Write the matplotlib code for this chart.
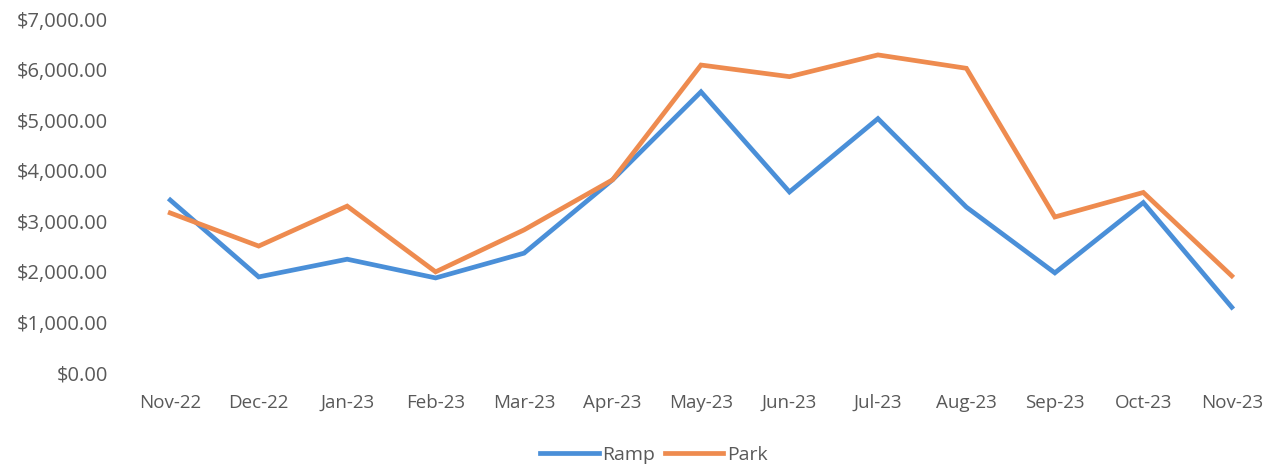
import matplotlib
matplotlib.use("Agg")
import matplotlib.pyplot as plt
from matplotlib.ticker import FuncFormatter
from matplotlib.lines import Line2D

months = ["Nov-22", "Dec-22", "Jan-23", "Feb-23", "Mar-23", "Apr-23", "May-23",
          "Jun-23", "Jul-23", "Aug-23", "Sep-23", "Oct-23", "Nov-23"]
ramp = [3420, 1900, 2250, 1880, 2370, 3820, 5560, 3580, 5030, 3280, 1980, 3370, 1300]
park = [3165, 2510, 3300, 2000, 2830, 3820, 6090, 5860, 6290, 6025, 3085, 3570, 1920]
yticks = [0, 1000, 2000, 3000, 4000, 5000, 6000, 7000]

blue = "#4A8FD8"
orange = "#EE8B4F"
textc = "#595959"

plt.rcParams['font.family'] = ['Open Sans', 'DejaVu Sans']

fig = plt.figure(figsize=(12.82, 4.68), dpi=100)
ax = fig.add_axes([126/1282, 1-373/468, (1276-126)/1282, (373-19)/468])

x = list(range(len(months)))
ax.plot(x, ramp, color=blue, lw=3.4, solid_joinstyle='miter', label="Ramp")
ax.plot(x, park, color=orange, lw=3.4, solid_joinstyle='miter', label="Park")

ax.set_xlim(-0.5, len(months) - 0.5)
ax.set_ylim(0, 7000)
ax.set_yticks(yticks)
ax.yaxis.set_major_formatter(FuncFormatter(lambda v, p: f"${v:,.2f}"))
ax.set_xticks(x)
ax.set_xticklabels(months)
for s in ax.spines.values():
    s.set_visible(False)
ax.tick_params(axis='y', length=0, pad=13, labelsize=14.5, labelcolor=textc)
ax.tick_params(axis='x', length=0, pad=15, labelsize=13.5, labelcolor=textc)

handles = [Line2D([0], [0], color=blue, lw=3.4), Line2D([0], [0], color=orange, lw=3.4)]
fig.legend(handles, ["Ramp", "Park"], loc='center', bbox_to_anchor=(654/1282, 1-455/468),
           ncol=2, frameon=False, fontsize=14, labelcolor=textc, handlelength=3.0,
           handletextpad=0.2, columnspacing=0.5)

fig.savefig("out.png", dpi=100)
